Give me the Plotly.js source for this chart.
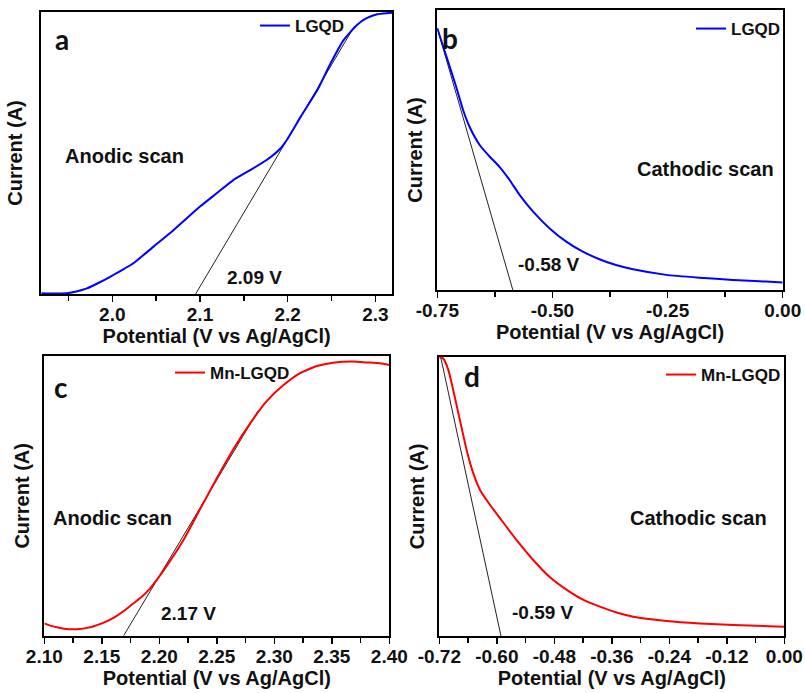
<!DOCTYPE html>
<html>
<head>
<meta charset="utf-8">
<script src="https://cdn.plot.ly/plotly-3.0.1.min.js"></script>
<style>html,body{margin:0;padding:0;background:#fff;}#chart{width:805px;height:693px;}</style>
</head>
<body>
<div id="chart"></div>
<script>
// Panel a: LGQD anodic scan
const aPotential = [1.919,1.933,1.948,1.959,1.971,1.984,1.998,2.024,2.047,2.070,2.100,2.119,2.138,2.161,2.176,2.192,2.199,2.215,2.234,2.249,2.264,2.279,2.290,2.302,2.313,2.319];
const aCurrent   = [0.003,0.002,0.003,0.009,0.020,0.039,0.062,0.109,0.168,0.227,0.310,0.357,0.404,0.446,0.475,0.517,0.546,0.629,0.724,0.818,0.901,0.954,0.978,0.992,0.996,0.997];
const aTangentX = [2.095, 2.276];
const aTangentY = [0.0, 0.949];
// Panel b: LGQD cathodic scan
const bPotential = [-0.750,-0.730,-0.709,-0.694,-0.680,-0.658,-0.636,-0.615,-0.593,-0.571,-0.542,-0.506,-0.470,-0.434,-0.398,-0.362,-0.325,-0.253,-0.181,-0.108,-0.036,0.000];
const bCurrent   = [0.935,0.833,0.726,0.643,0.583,0.518,0.476,0.440,0.393,0.339,0.280,0.220,0.173,0.137,0.110,0.089,0.074,0.054,0.044,0.036,0.030,0.027];
const bTangentX = [-0.750, -0.586];
const bTangentY = [0.935, 0.0];
// Panel c: Mn-LGQD anodic scan
const cPotential = [2.100,2.106,2.112,2.119,2.125,2.131,2.137,2.143,2.150,2.156,2.163,2.170,2.177,2.185,2.192,2.206,2.221,2.235,2.250,2.264,2.279,2.293,2.308,2.322,2.337,2.351,2.369,2.380,2.392,2.400];
const cCurrent   = [0.044,0.035,0.029,0.024,0.023,0.024,0.028,0.034,0.044,0.055,0.071,0.091,0.114,0.140,0.169,0.247,0.342,0.449,0.563,0.664,0.759,0.837,0.896,0.938,0.964,0.976,0.980,0.977,0.974,0.968];
const cTangentX = [2.169, 2.286];
const cTangentY = [0.0, 0.805];
// Panel d: Mn-LGQD cathodic scan
const dPotential = [-0.720,-0.712,-0.701,-0.691,-0.677,-0.663,-0.649,-0.635,-0.614,-0.593,-0.559,-0.524,-0.489,-0.454,-0.419,-0.385,-0.350,-0.315,-0.246,-0.176,-0.106,0.000];
const dCurrent   = [0.998,0.994,0.952,0.881,0.773,0.666,0.582,0.523,0.469,0.421,0.344,0.272,0.210,0.165,0.129,0.105,0.084,0.069,0.054,0.045,0.039,0.033];
const dTangentX = [-0.717, -0.5913];
const dTangentY = [0.998, 0.0];

// Tick labels
const aTickVals = [2.0, 2.1, 2.2, 2.3];
const aTickText = ["2.0", "2.1", "2.2", "2.3"];
const bTickVals = [-0.75, -0.5, -0.25, 0];
const bTickText = ["-0.75", "-0.50", "-0.25", "0.00"];
const cTickVals = [2.10, 2.15, 2.20, 2.25, 2.30, 2.35, 2.40];
const cTickText = ["2.10", "2.15", "2.20", "2.25", "2.30", "2.35", "2.40"];
const dTickVals = [-0.72, -0.60, -0.48, -0.36, -0.24, -0.12, 0];
const dTickText = ["-0.72", "-0.60", "-0.48", "-0.36", "-0.24", "-0.12", "0.00"];

const seriesNames = ["LGQD", "LGQD", "Mn-LGQD", "Mn-LGQD"];
const panelLetters = ["a", "b", "c", "d"];
const scanLabels = ["Anodic scan", "Cathodic scan", "Anodic scan", "Cathodic scan"];
const onsetLabels = ["2.09 V", "-0.58 V", "2.17 V", "-0.59 V"];

const W = 805, H = 693;
const px = v => v / W;
const py = v => 1 - v / H;
const FONT = "Arial, 'Liberation Sans', sans-serif";
const BLUE = "#0000ff", RED = "#ff0000";

function curve(x, y, color, xa, ya, name, legend) {
  return {x: x, y: y, type: "scatter", mode: "lines", name: name, xaxis: xa, yaxis: ya,
          legend: legend, line: {color: color, width: 2, shape: "spline", smoothing: 0.5}};
}
function tangent(x, y, xa, ya) {
  return {x: x, y: y, type: "scatter", mode: "lines", xaxis: xa, yaxis: ya, showlegend: false,
          line: {color: "#222", width: 1}, hoverinfo: "skip"};
}

const traces = [
  tangent(aTangentX, aTangentY, "x", "y"),
  curve(aPotential, aCurrent, BLUE, "x", "y", seriesNames[0], "legend"),
  tangent(bTangentX, bTangentY, "x2", "y2"),
  curve(bPotential, bCurrent, BLUE, "x2", "y2", seriesNames[1], "legend2"),
  tangent(cTangentX, cTangentY, "x3", "y3"),
  curve(cPotential, cCurrent, RED, "x3", "y3", seriesNames[2], "legend3"),
  tangent(dTangentX, dTangentY, "x4", "y4"),
  curve(dPotential, dCurrent, RED, "x4", "y4", seriesNames[3], "legend4")
];

function xaxis(dom, range, tv, tt, minorDtick, anchor) {
  return {domain: dom, range: range, anchor: anchor, tickvals: tv, ticktext: tt,
    showline: true, linewidth: 2, linecolor: "#000", mirror: true, showgrid: false, zeroline: false,
    ticks: "outside", ticklen: 6, tickwidth: 1.5, tickcolor: "#000", ticklabelstandoff: -4,
    minor: {dtick: minorDtick, tick0: 0, ticks: "outside", ticklen: 5, tickwidth: 1.5, tickcolor: "#000", showgrid: false},
    tickfont: {family: FONT, size: 19, color: "#111", weight: "bold"},
    title: {text: "Potential (V vs Ag/AgCl)", standoff: 5, font: {family: FONT, size: 20, color: "#111", weight: "bold"}}};
}
function yaxis(dom, anchor, standoff) {
  return {domain: dom, range: [0, 1], anchor: anchor, showline: true, linewidth: 2, linecolor: "#000",
    mirror: true, showgrid: false, zeroline: false, ticks: "", showticklabels: false,
    title: {text: "Current (A)", standoff: standoff, font: {family: FONT, size: 20, color: "#111", weight: "bold"}}};
}
function legend(x, y) {
  return {x: x, y: y, xanchor: "left", yanchor: "middle", bgcolor: "rgba(0,0,0,0)", borderwidth: 0,
    font: {family: FONT, size: 17, color: "#111", weight: "bold"}};
}
function ann(text, x, y, size, family, weight) {
  return {text: text, x: px(x), y: py(y), xref: "paper", yref: "paper", showarrow: false,
    xanchor: "center", yanchor: "middle", font: {family: family || FONT, size: size, color: "#111", weight: weight || "bold"}};
}

const layout = {
  width: W, height: H, margin: {l: 0, r: 0, t: 0, b: 0}, paper_bgcolor: "#fff", plot_bgcolor: "#fff",
  xaxis:  xaxis([px(41.3), px(392)], [1.919, 2.319], aTickVals, aTickText, 0.05, "y"),
  yaxis:  yaxis([py(294), py(12)], "x", 11),
  xaxis2: xaxis([px(437.3), px(782.7)], [-0.75, 0], bTickVals, bTickText, 0.125, "y2"),
  yaxis2: yaxis([py(290), py(10)], "x2", 7),
  xaxis3: xaxis([px(44.3), px(389.3)], [2.10, 2.40], cTickVals, cTickText, 0.025, "y3"),
  yaxis3: yaxis([py(635.7), py(356)], "x3", 7),
  xaxis4: xaxis([px(439.3), px(784.3)], [-0.72, 0], dTickVals, dTickText, 0.06, "y4"),
  yaxis4: yaxis([py(636), py(356.7)], "x4", 7),
  legend:  legend(px(255), py(26)),
  legend2: legend(px(691), py(29)),
  legend3: legend(px(170), py(373)),
  legend4: legend(px(661), py(375)),
  annotations: [
    ann(panelLetters[0], 62, 39, 28, "Lato, 'Open Sans', sans-serif"),
    ann(panelLetters[1], 450, 38, 28, "Lato, 'Open Sans', sans-serif"),
    ann(panelLetters[2], 61, 387, 28, "Lato, 'Open Sans', sans-serif"),
    ann(panelLetters[3], 472, 376, 28, "Lato, 'Open Sans', sans-serif"),
    ann(scanLabels[0], 124.5, 156, 20),
    ann(scanLabels[1], 705, 169, 20),
    ann(scanLabels[2], 112.7, 518, 20),
    ann(scanLabels[3], 698, 518, 20),
    ann(onsetLabels[0], 254, 277, 19),
    ann(onsetLabels[1], 549, 264, 19),
    ann(onsetLabels[2], 188, 613, 19),
    ann(onsetLabels[3], 543, 612, 19)
  ]
};

Plotly.newPlot("chart", traces, layout, {staticPlot: true, displayModeBar: false});
</script>
</body>
</html>
